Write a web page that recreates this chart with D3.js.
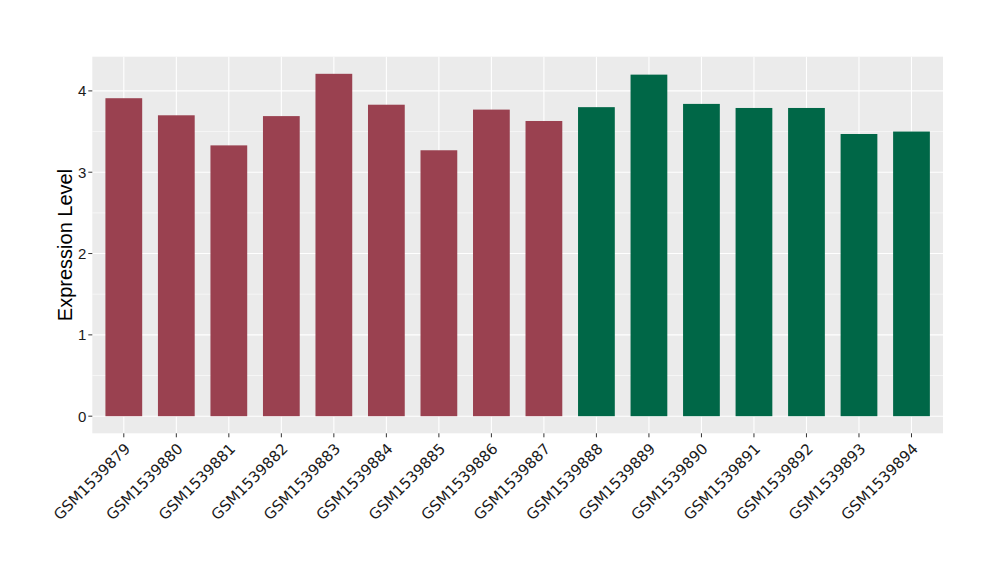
<!DOCTYPE html>
<html><head><meta charset="utf-8">
<script src="https://cdn.jsdelivr.net/npm/d3@7/dist/d3.min.js"></script>
<style>body{margin:0;background:#fff;} text{font-family:"Liberation Sans",Arial,sans-serif;}</style>
</head><body>
<svg id="chart" width="1000" height="580"></svg>
<script>
const categories = ["GSM1539879","GSM1539880","GSM1539881","GSM1539882","GSM1539883","GSM1539884","GSM1539885","GSM1539886","GSM1539887","GSM1539888","GSM1539889","GSM1539890","GSM1539891","GSM1539892","GSM1539893","GSM1539894"];
const values = [3.91,3.70,3.33,3.69,4.21,3.83,3.27,3.77,3.63,3.80,4.20,3.84,3.79,3.79,3.47,3.50];
const groups = ["A","A","A","A","A","A","A","A","A","B","B","B","B","B","B","B"];
const groupColors = {A:"#9a4150", B:"#006747"};
const yTicks = [0,1,2,3,4];

const svg = d3.select("#chart");
const L = 92.3, R = 943, T = 56.7, B = 433.3;
const n = categories.length;
const x = d3.scaleLinear().domain([0.4, n + 0.6]).range([L, R]);
const vmax = d3.max(values);
const y = d3.scaleLinear().domain([-0.05*vmax, vmax*1.05]).range([B, T]);

svg.append("rect").attr("x",L).attr("y",T).attr("width",R-L).attr("height",B-T).attr("fill","#ebebeb");
const minor = [0.5,1.5,2.5,3.5];
svg.selectAll(".ming").data(minor).enter().append("line")
  .attr("x1",L).attr("x2",R).attr("y1",d=>y(d)).attr("y2",d=>y(d))
  .attr("stroke","#fff").attr("stroke-width",0.55);
svg.selectAll(".majg").data(yTicks).enter().append("line")
  .attr("x1",L).attr("x2",R).attr("y1",d=>y(d)).attr("y2",d=>y(d))
  .attr("stroke","#fff").attr("stroke-width",1.1);
svg.selectAll(".xg").data(categories).enter().append("line")
  .attr("x1",(d,i)=>x(i+1)).attr("x2",(d,i)=>x(i+1)).attr("y1",T).attr("y2",B)
  .attr("stroke","#fff").attr("stroke-width",1.1);

const bw = (x(1.35)-x(0.65));
svg.selectAll(".bar").data(values).enter().append("rect")
  .attr("x",(d,i)=>x(i+1)-bw/2).attr("width",bw)
  .attr("y",d=>y(d)).attr("height",d=>y(0)-y(d))
  .attr("fill",(d,i)=>groupColors[groups[i]]);

svg.selectAll(".yt").data(yTicks).enter().append("line")
  .attr("x1",L-4).attr("x2",L).attr("y1",d=>y(d)).attr("y2",d=>y(d))
  .attr("stroke","#333").attr("stroke-width",1);
svg.selectAll(".yl").data(yTicks).enter().append("text")
  .attr("x",L-6).attr("y",d=>y(d)).attr("dy","0.36em").attr("text-anchor","end")
  .attr("font-size",15).attr("fill","#1a1a1a").text(d=>d);
svg.selectAll(".xt").data(categories).enter().append("line")
  .attr("x1",(d,i)=>x(i+1)).attr("x2",(d,i)=>x(i+1)).attr("y1",B).attr("y2",B+4)
  .attr("stroke","#333").attr("stroke-width",1);
svg.selectAll(".xl").data(categories).enter().append("text")
  .attr("transform",(d,i)=>`translate(${x(i+1)},${B+9}) rotate(-45)`)
  .attr("text-anchor","end").attr("dy","0.7em")
  .style("font-family","'DejaVu Sans',sans-serif")
  .attr("font-size",15).attr("fill","#1a1a1a").text(d=>d);

svg.append("text").attr("transform",`translate(72,${(T+B)/2}) rotate(-90)`)
  .attr("text-anchor","middle").attr("font-size",20).attr("fill","#000").text("Expression Level");
</script>
</body></html>
